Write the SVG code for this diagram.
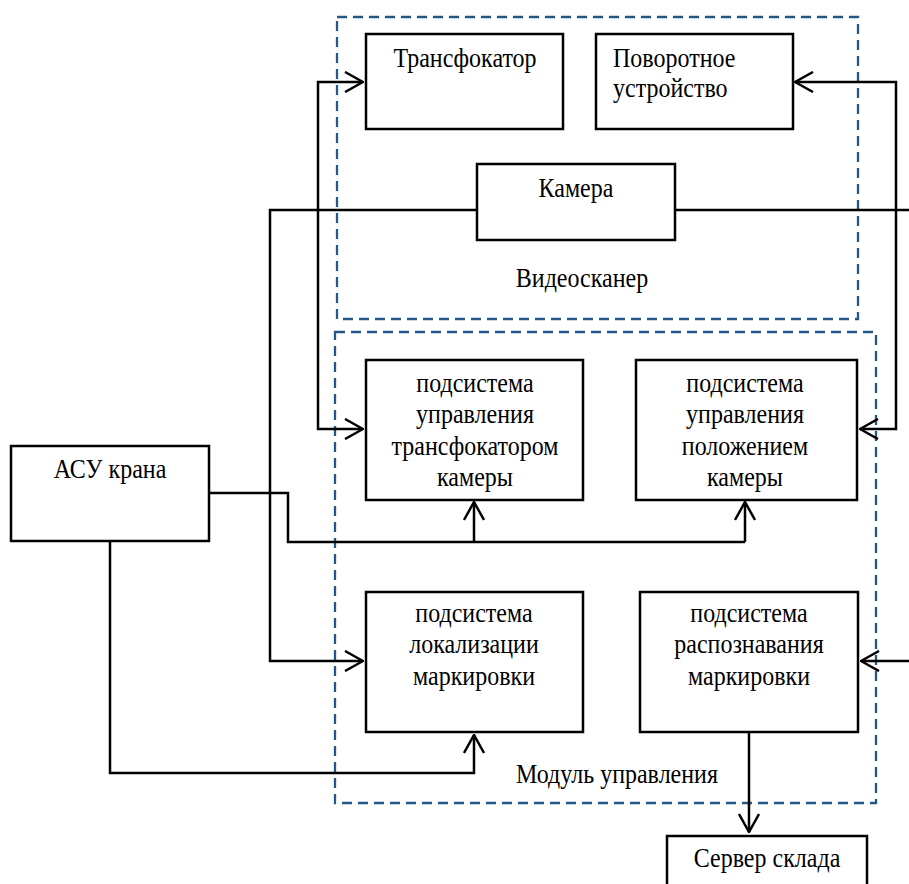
<svg xmlns="http://www.w3.org/2000/svg" width="909" height="884" viewBox="0 0 909 884">
  <style>
    .box { fill: #ffffff; stroke: #000000; stroke-width: 2.5; }
    .frame { fill: none; stroke: #25588A; stroke-width: 2.3; stroke-dasharray: 10 6; }
    .wire { fill: none; stroke: #000000; stroke-width: 2.5; stroke-linejoin: miter; }
    .lbl { font-family: "Liberation Serif", "Times New Roman", serif; font-size: 24px; fill: #000000; text-anchor: middle; }
    .lft { text-anchor: start; }
  </style>
  <defs>
    <marker id="arr" viewBox="0 0 20 22" refX="19" refY="11" markerWidth="20" markerHeight="22" markerUnits="userSpaceOnUse" orient="auto-start-reverse">
      <path d="M1,1 L19,11 L1,21" fill="none" stroke="#000000" stroke-width="2.5"/>
    </marker>
  </defs>

  <rect width="909" height="884" fill="#ffffff"/>

  <!-- group frames -->
  <g id="videoscanner">
    <rect class="frame" x="337" y="17" width="521" height="302"/>
    <text class="lbl" transform="translate(582,287) scale(1,1.1)">Видеосканер</text>
  </g>
  <g id="control-module">
    <rect class="frame" x="335" y="332" width="541" height="471"/>
    <text class="lbl" transform="translate(617,783) scale(1,1.1)">Модуль управления</text>
  </g>

  <!-- connectors -->
  <g id="connectors">
    <!-- camera to localization subsystem -->
    <polyline class="wire" points="477,210 270,210 270,661 363,661" marker-end="url(#arr)"/>
    <!-- camera to recognition subsystem (runs along the right edge) -->
    <polyline class="wire" points="675,210 911,210 911,661 861,661" marker-end="url(#arr)"/>
    <!-- zoom control link -->
    <polyline class="wire" points="363,82 318,82 318,429 363,429" marker-start="url(#arr)" marker-end="url(#arr)"/>
    <!-- pan/tilt control link -->
    <polyline class="wire" points="795,82 896,82 896,429 860,429" marker-start="url(#arr)" marker-end="url(#arr)"/>
    <!-- crane ACS to camera control subsystems -->
    <polyline class="wire" points="209,493 288,493 288,542 745,542"/>
    <line class="wire" x1="474" y1="542" x2="474" y2="502" marker-end="url(#arr)"/>
    <line class="wire" x1="745" y1="542" x2="745" y2="502" marker-end="url(#arr)"/>
    <!-- crane ACS to localization subsystem -->
    <polyline class="wire" points="110,541 110,773 474,773 474,735" marker-end="url(#arr)"/>
    <!-- recognition to warehouse server -->
    <line class="wire" x1="749" y1="732" x2="749" y2="832" marker-end="url(#arr)"/>
  </g>

  <!-- nodes -->
  <g id="zoom-lens">
    <rect class="box" x="366" y="34" width="197" height="95"/>
    <text class="lbl" transform="translate(465,67) scale(1,1.1)">Трансфокатор</text>
  </g>
  <g id="pan-tilt">
    <rect class="box" x="596" y="34" width="197" height="95"/>
    <text class="lbl lft" transform="translate(613,67) scale(1,1.1)">Поворотное</text>
    <text class="lbl lft" transform="translate(613,97) scale(1,1.1)">устройство</text>
  </g>
  <g id="camera">
    <rect class="box" x="477" y="164" width="198" height="76"/>
    <text class="lbl" transform="translate(576,197) scale(1,1.1)">Камера</text>
  </g>
  <g id="zoom-control">
    <rect class="box" x="366" y="360" width="217" height="140"/>
    <text class="lbl" transform="translate(475,392) scale(1,1.1)">подсистема</text>
    <text class="lbl" transform="translate(475,423) scale(1,1.1)">управления</text>
    <text class="lbl" transform="translate(475,455) scale(1,1.1)">трансфокатором</text>
    <text class="lbl" transform="translate(475,486) scale(1,1.1)">камеры</text>
  </g>
  <g id="position-control">
    <rect class="box" x="636" y="360" width="221" height="140"/>
    <text class="lbl" transform="translate(745,392) scale(1,1.1)">подсистема</text>
    <text class="lbl" transform="translate(745,423) scale(1,1.1)">управления</text>
    <text class="lbl" transform="translate(745,455) scale(1,1.1)">положением</text>
    <text class="lbl" transform="translate(745,486) scale(1,1.1)">камеры</text>
  </g>
  <g id="crane-acs">
    <rect class="box" x="11" y="446" width="198" height="95"/>
    <text class="lbl" transform="translate(110,478) scale(1,1.1)">АСУ крана</text>
  </g>
  <g id="localization">
    <rect class="box" x="366" y="592" width="217" height="140"/>
    <text class="lbl" transform="translate(474,622) scale(1,1.1)">подсистема</text>
    <text class="lbl" transform="translate(474,653) scale(1,1.1)">локализации</text>
    <text class="lbl" transform="translate(474,685) scale(1,1.1)">маркировки</text>
  </g>
  <g id="recognition">
    <rect class="box" x="640" y="592" width="218" height="140"/>
    <text class="lbl" transform="translate(749,622) scale(1,1.1)">подсистема</text>
    <text class="lbl" transform="translate(749,653) scale(1,1.1)">распознавания</text>
    <text class="lbl" transform="translate(749,685) scale(1,1.1)">маркировки</text>
  </g>
  <g id="warehouse-server">
    <rect class="box" x="667" y="836" width="200" height="60"/>
    <text class="lbl" transform="translate(767,867) scale(1,1.1)">Сервер склада</text>
  </g>
</svg>
